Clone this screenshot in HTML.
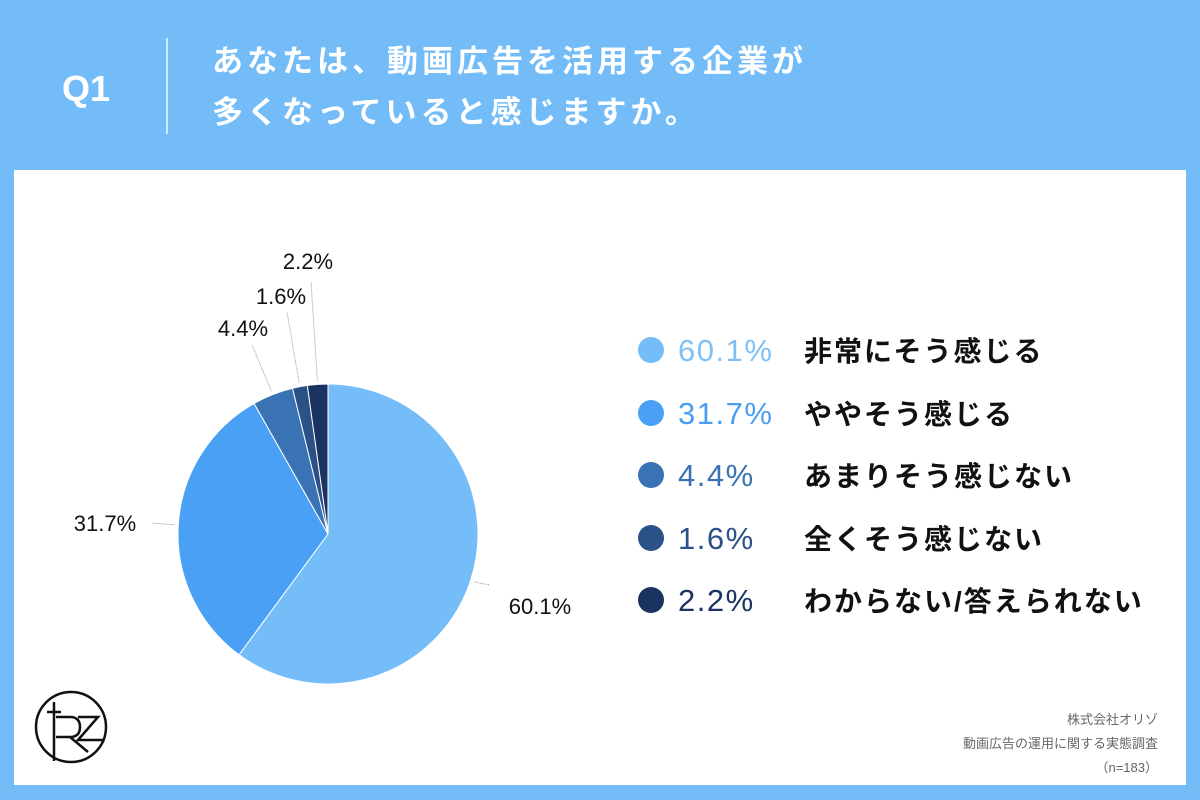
<!DOCTYPE html>
<html><head><meta charset="utf-8"><style>
body{margin:0;width:1200px;height:800px;background:#73bcf8;position:relative;overflow:hidden;font-family:"Liberation Sans","Noto Sans CJK JP",sans-serif}
.abs{position:absolute}
</style></head><body>
<div class="abs" style="left:62px;top:68px;color:#fff;font-size:36px;font-weight:bold">Q1</div>
<div class="abs" style="left:166px;top:38px;width:2px;height:96px;background:#d6ecfd"></div>
<div class="abs" style="left:212px;top:36px;color:#fff;font-size:31px;letter-spacing:4px;font-weight:bold;line-height:51px">あなたは、動画広告を活用する企業が<br>多くなっていると感じますか。</div>
<div class="abs" style="left:14px;top:170px;width:1172px;height:615px;background:#fff"></div>
<svg class="abs" style="left:0;top:0" width="1200" height="800">
<g id="pie"></g>
<g fill="none" stroke="#111" stroke-width="2.5">
<circle cx="71" cy="727" r="35"/>
<line x1="54" y1="702" x2="54" y2="761"/><line x1="47" y1="712" x2="61" y2="712"/>
<path d="M56 717 H70 Q80 717 80 727 Q80 737 70 737 H56"/><line x1="70" y1="737" x2="88" y2="752"/>
<path d="M78 717 H98 L78 740 H104"/>
</g>
</svg>
<div id="legend"></div>
<div class="abs" style="right:42px;top:708px;text-align:right;font-size:13px;color:#666;line-height:24px">株式会社オリゾ<br>動画広告の運用に関する実態調査<br>（n=183）</div>
<script>
const categories=["非常にそう感じる","ややそう感じる","あまりそう感じない","全くそう感じない","わからない/答えられない"];
const values=[60.1,31.7,4.4,1.6,2.2];
const labels=["60.1%","31.7%","4.4%","1.6%","2.2%"];
const colors=["#74bdf8","#4aa0f5","#3a73b3","#2b5287","#1b3360"];
const pctColors=["#80c0f5","#4a9ef0","#3a73b3","#2b5287","#1b3360"];
const cx=328,cy=534,r=150;
const total=values.reduce((a,b)=>a+b,0);
const ns="http://www.w3.org/2000/svg";
const g=document.getElementById('pie');
const labelPos=[[540,606],[105,523],[243,328],[281,296],[308,261]];
const lineEnd=[[490,585],[152,523],[252,345],[287,312],[311,282]];
let a=0;
values.forEach((v,i)=>{
  const a0=a, a1=a+v/total*2*Math.PI; a=a1;
  const p=(t,rr)=>[cx+rr*Math.sin(t),cy-rr*Math.cos(t)];
  const [x0,y0]=p(a0,r),[x1,y1]=p(a1,r);
  const path=document.createElementNS(ns,'path');
  path.setAttribute('d',`M${cx} ${cy} L${x0} ${y0} A${r} ${r} 0 ${a1-a0>Math.PI?1:0} 1 ${x1} ${y1}Z`);
  path.setAttribute('fill',colors[i]);path.setAttribute('stroke','#fff');path.setAttribute('stroke-width','1');
  
  
  g.appendChild(path);
  const [mx,my]=p((a0+a1)/2,r+4);
  const ln=document.createElementNS(ns,'line');
  ln.setAttribute('x1',mx);ln.setAttribute('y1',my);ln.setAttribute('x2',lineEnd[i][0]);ln.setAttribute('y2',lineEnd[i][1]);
  ln.setAttribute('stroke','#999');ln.setAttribute('stroke-width','1');ln.setAttribute('stroke-dasharray','1 1');
  
  
  g.appendChild(ln);
  const t=document.createElementNS(ns,'text');
  t.setAttribute('x',labelPos[i][0]);t.setAttribute('y',labelPos[i][1]+8);
  t.setAttribute('text-anchor','middle');t.setAttribute('font-size','22');t.setAttribute('fill','#111');
  t.textContent=labels[i];
  
  
  g.appendChild(t);
});
const lg=document.getElementById('legend');
categories.forEach((c,i)=>{
  const y=350+i*62.5;
  const row=document.createElement('div');
  row.className='abs';row.style.cssText=`left:636px;top:${y-20}px;height:40px;width:550px`;
  
  
  row.innerHTML=`<div style="position:absolute;left:2px;top:7px;width:26px;height:26px;border-radius:50%;background:${colors[i]}"></div>
<div style="position:absolute;left:42px;top:3px;font-size:31px;letter-spacing:1.5px;color:${pctColors[i]}">${labels[i]}</div>
<div style="position:absolute;left:168px;top:0px;font-size:28px;letter-spacing:2px;font-weight:bold;color:#111">${c}</div>`;
  lg.appendChild(row);
});
</script>
</body></html>
